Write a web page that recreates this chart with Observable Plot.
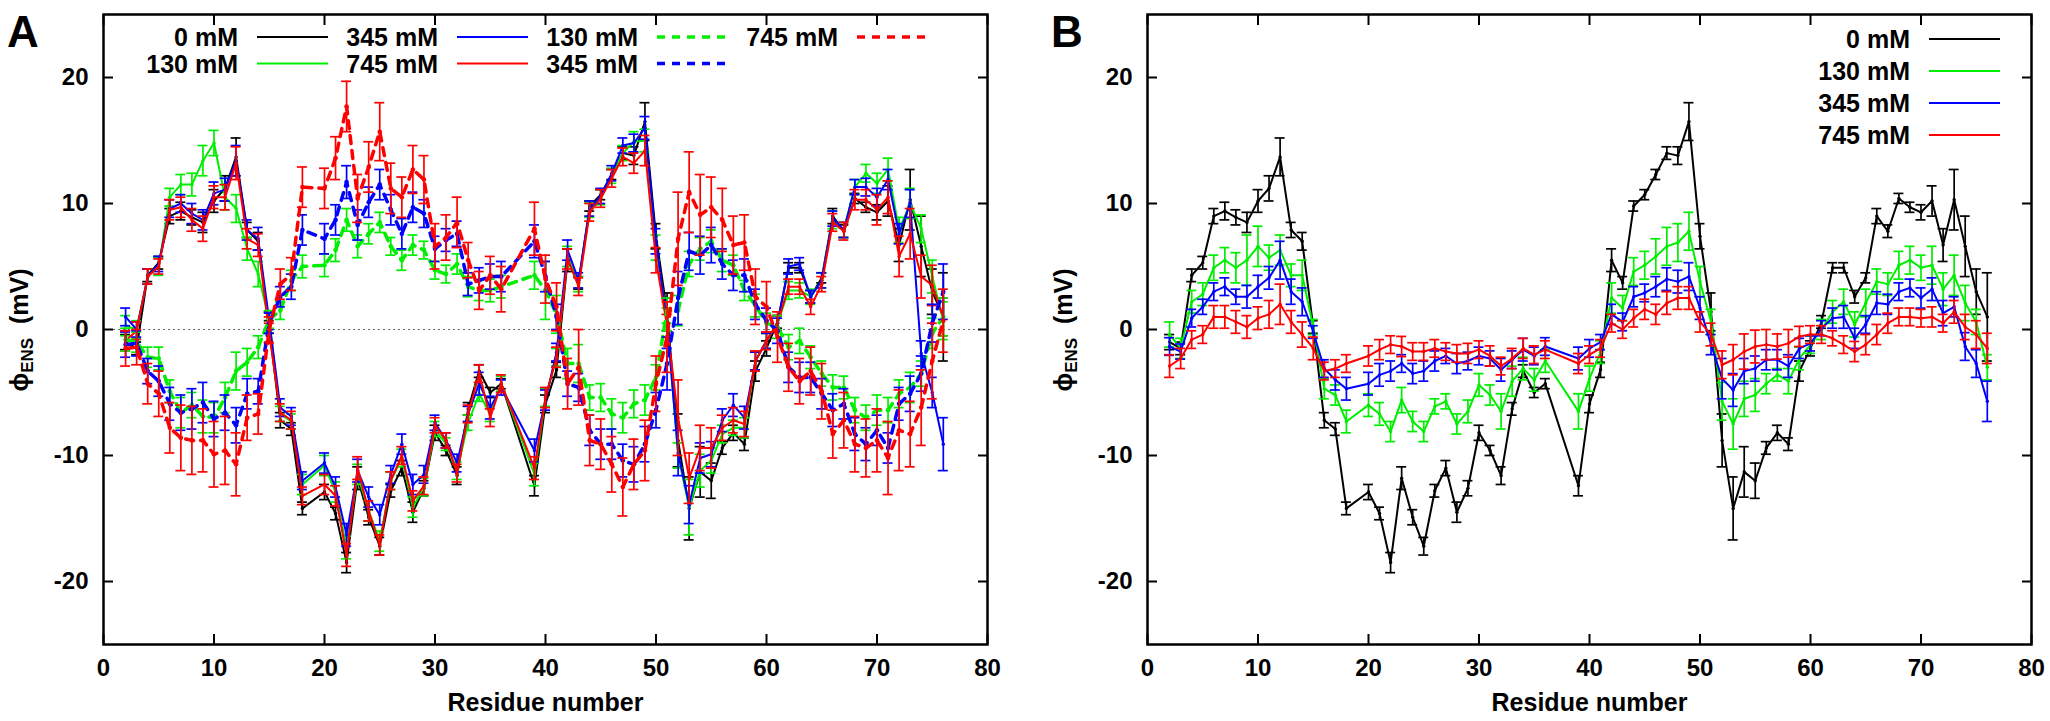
<!DOCTYPE html>
<html><head><meta charset="utf-8">
<script src="https://cdn.jsdelivr.net/npm/d3@7"></script>
<script src="https://cdn.jsdelivr.net/npm/@observablehq/plot@0.6"></script>
<style>
html,body{margin:0;padding:0;background:#fff;}
body{width:2050px;height:721px;overflow:hidden;position:relative;font-family:"Liberation Sans",Arial,sans-serif;}
#panelA,#panelB{position:absolute;top:0;}
#panelA{left:0px;}
#panelB{left:1044px;}
</style></head><body>
<div id="panelA"></div><div id="panelB"></div>
<script>
// ---------------- data ----------------
const residues = [2,3,4,5,6,7,8,9,10,11,12,13,14,15,16,17,18,
  20,21,22,23,24,25,26,27,28,29,30,31,32,33,34,35,36,
  39,40,41,42,43,44,45,46,47,48,49,50,51,52,53,54,55,56,57,58,59,60,61,62,63,64,65,66,67,68,69,70,71,72,73,74,75,76];

const xTicks = [0,10,20,30,40,50,60,70,80];
const yTicks = [-20,-10,0,10,20];
const concLabels = ["0 mM","130 mM","345 mM","745 mM"];
const concColors = ["#000000","#00ee00","#0000ff","#ff0000"];

// 0 mM (same in both panels)
const phi0 = [-1.0,-1.5,4.3,5.3,9.0,9.4,8.9,8.5,10.2,11.2,13.7,7.9,7.0,0.2,-7.2,-7.9,-14.2,
  -12.9,-14.6,-18.5,-11.8,-14.9,-17.2,-12.8,-11.0,-14.5,-12.6,-8.2,-9.6,-11.6,-6.3,-3.3,-5.0,-4.3,
  -12.4,-5.9,-3.2,5.5,3.7,9.8,10.7,12.3,14.0,13.8,16.5,7.4,1.4,-8.8,-14.2,-11.3,-12.0,-9.4,-8.2,-9.1,-3.3,-1.5,0.6,4.9,4.9,2.6,4.1,9.0,7.8,10.4,9.7,9.3,10.2,6.7,10.3,6.6,3.0,1.0];
const err0 = [0.6,0.5,0.5,0.5,0.6,0.7,0.6,0.8,0.9,1.0,1.5,0.6,0.7,0.5,0.6,0.5,0.5,
  0.6,0.5,0.8,0.9,0.6,0.7,0.5,0.6,0.8,0.6,0.6,0.4,0.7,0.5,0.5,0.4,0.4,
  0.8,0.7,0.6,0.9,0.5,0.4,0.4,0.4,0.5,0.7,1.5,1.0,1.5,2.1,2.5,2.0,1.4,0.5,0.6,0.5,0.8,0.6,0.5,0.4,0.4,0.5,0.4,0.6,0.5,0.4,0.4,0.6,1.2,1.3,2.4,2.4,1.8,3.5];

// Panel A, solid lines
const phiA130 = [0.3,0.0,4.2,5.0,10.5,11.5,11.5,13.4,14.8,10.5,9.6,6.4,4.4,0.7,-6.7,-7.3,-12.3,
  -10.8,-12.9,-17.3,-11.5,-14.4,-16.8,-12.0,-10.2,-14.1,-12.5,-7.9,-9.1,-11.2,-7.4,-5.1,-6.7,-4.3,
  -11.5,-5.4,-2.2,5.8,3.6,9.5,10.5,12.2,14.0,14.9,15.0,6.5,0.8,-10.0,-14.1,-11.2,-10.4,-8.3,-7.8,-7.8,-2.5,-0.9,0.5,3.1,3.1,2.6,3.9,8.7,7.9,11.3,12.4,11.6,12.7,7.9,10.0,8.0,4.2,0.7];
const errA130 = [0.8,0.7,0.6,0.7,0.7,0.8,0.9,1.2,1.0,1.0,1.1,0.9,1.0,0.7,0.6,0.6,0.8,
  0.8,0.8,0.9,0.8,0.8,0.8,0.7,0.7,0.8,0.7,0.6,0.5,0.7,0.6,0.6,0.6,0.6,
  0.9,0.7,0.7,0.8,0.6,0.6,0.6,0.6,0.6,0.8,0.9,1.0,0.9,1.0,2.2,1.3,1.0,0.7,0.6,0.8,0.7,0.6,0.6,0.7,0.6,0.6,0.6,0.7,0.6,0.6,0.7,0.8,0.9,1.0,1.2,1.1,1.3,1.5];
const phiA345 = [1.0,0.0,4.2,5.2,9.6,10.0,9.2,8.7,10.8,11.1,13.4,7.9,7.2,0.7,-6.2,-6.9,-12.0,
  -10.6,-12.5,-16.3,-11.2,-13.3,-14.7,-11.5,-9.1,-12.3,-11.5,-7.4,-8.8,-10.6,-6.7,-4.3,-6.2,-4.6,
  -9.6,-5.6,-1.8,6.3,3.9,9.6,10.6,12.4,14.6,14.8,16.0,7.0,0.5,-9.8,-13.9,-10.2,-9.9,-7.2,-6.0,-7.0,-2.5,-0.9,0.5,5.0,5.2,2.6,3.9,8.8,7.9,11.3,11.3,10.5,11.9,7.6,10.0,-1.9,-5.0,-9.1];
const errA345 = [0.7,0.6,0.6,0.6,0.7,0.7,0.8,0.8,0.9,0.9,1.2,0.8,0.9,0.7,0.7,0.7,0.7,
  0.8,0.8,0.9,0.9,0.8,0.8,0.7,0.8,0.8,0.7,0.6,0.6,0.7,0.6,0.9,0.9,0.6,
  0.9,0.8,0.7,0.8,0.6,0.6,0.6,0.6,0.6,0.7,0.9,1.0,2.0,1.8,1.5,1.2,1.0,0.9,0.9,0.9,0.7,0.6,0.6,0.6,0.5,0.5,0.6,0.6,0.6,0.6,0.7,0.7,0.8,0.8,1.1,1.0,1.2,2.1];
const phiA745 = [-0.9,-0.1,4.2,5.0,9.5,9.7,8.7,8.0,10.5,10.5,13.2,7.2,6.7,-0.3,-6.6,-7.2,-13.2,
  -12.3,-13.2,-17.9,-11.0,-14.4,-17.1,-12.0,-10.0,-13.6,-12.4,-7.6,-8.8,-11.4,-6.7,-3.5,-7.0,-4.3,
  -11.0,-5.4,-2.2,5.6,3.4,9.3,10.4,12.0,13.7,13.2,14.2,5.5,0.3,-7.0,-11.8,-9.4,-9.4,-7.8,-7.2,-7.5,-2.5,-0.9,0.5,3.4,3.4,1.8,3.6,8.5,7.8,10.3,10.3,9.5,10.5,5.8,7.6,4.2,3.5,1.0];
const errA745 = [0.8,0.7,0.6,0.6,0.8,0.8,0.9,1.0,0.9,1.0,1.3,0.8,0.9,0.8,0.7,0.7,0.7,
  0.8,0.8,0.9,0.9,0.8,0.8,0.7,0.7,0.8,0.7,0.6,0.6,0.7,0.7,0.7,0.7,0.7,
  0.9,0.8,0.8,0.8,0.7,0.7,0.7,0.7,0.7,0.8,1.2,1.0,0.9,3.0,2.0,1.8,1.6,1.0,1.0,1.0,0.8,0.7,0.6,0.6,0.6,0.6,0.6,0.7,0.7,0.8,0.8,1.2,1.3,1.6,2.0,1.7,1.6,1.5];

// Panel A, dashed lines
const phiA130d = [-0.8,-1.0,-2.2,-2.3,-4.9,-6.6,-6.0,-6.9,-7.0,-5.4,-3.3,-2.6,-1.4,0.8,1.5,3.9,5.0,
  5.1,6.3,8.7,6.6,7.6,8.5,6.6,5.5,6.7,6.3,4.7,4.4,5.2,3.4,3.1,3.1,3.4,
  4.3,3.1,1.2,-2.7,-2.7,-5.4,-5.4,-6.7,-7.0,-5.9,-5.6,-3.8,1.5,1.5,5.2,6.4,7.0,5.5,5.1,3.1,1.9,0.5,0.2,-1.4,-0.9,-2.2,-3.5,-4.6,-4.6,-6.4,-7.0,-6.4,-6.4,-5.1,-4.6,-3.5,-0.3,1.0];
const errA130d = [0.9,0.8,0.8,0.9,0.9,1.2,1.0,1.3,1.2,1.2,1.5,1.1,0.9,0.7,0.7,0.8,0.9,
  0.9,0.9,0.9,0.9,0.8,0.8,0.7,0.8,0.8,0.7,0.7,0.7,0.8,0.8,0.8,0.9,0.9,
  1.1,2.3,1.5,1.2,1.5,1.0,1.1,1.2,1.2,1.1,1.2,1.0,1.0,1.2,1.0,0.9,0.9,0.9,0.8,0.8,0.9,0.8,0.9,1.0,1.0,0.9,1.0,1.0,0.9,1.0,1.0,1.2,1.0,1.1,1.2,1.0,1.2,1.5];
const phiA345d = [-1.2,-1.1,-3.3,-4.1,-5.9,-6.6,-6.3,-5.8,-7.1,-6.6,-7.6,-5.1,-4.9,0.5,2.6,3.4,7.9,
  7.2,8.7,11.7,8.3,10.1,11.5,9.5,7.6,9.7,9.2,6.4,7.1,7.6,3.6,3.9,4.2,4.2,
  7.0,4.2,1.0,-4.3,-4.6,-8.0,-9.1,-9.1,-10.4,-10.7,-9.1,-6.4,-2.7,2.5,6.2,5.9,6.7,5.2,4.3,4.3,2.0,0.7,-0.1,-3.0,-3.8,-3.8,-5.1,-6.4,-5.9,-8.3,-9.1,-8.0,-9.4,-5.9,-5.1,-3.5,0.5,3.0];
const errA345d = [1.0,1.0,1.0,1.2,1.3,1.4,1.6,1.6,1.4,1.4,1.4,1.2,1.0,0.8,0.8,1.0,1.2,
  1.2,1.2,1.3,1.2,1.2,1.2,1.2,1.2,1.2,1.1,1.0,0.9,1.0,0.9,1.0,1.0,1.2,
  1.3,1.2,1.0,1.0,1.1,1.2,1.2,1.2,1.3,1.4,1.4,1.4,2.1,2.1,1.5,1.5,1.4,1.2,1.2,1.3,1.2,1.0,1.0,1.2,1.2,1.2,1.2,1.3,1.2,1.3,1.3,1.2,1.2,1.3,1.4,1.4,1.5,2.2];
const phiA745d = [-1.5,-1.4,-4.3,-5.1,-7.8,-8.6,-8.8,-8.8,-9.9,-9.6,-10.7,-7.0,-6.7,0.0,3.6,4.4,11.3,
  11.2,13.6,17.7,10.4,12.9,15.7,11.2,10.5,12.7,11.9,6.6,7.3,8.5,5.5,3.1,4.3,3.2,
  8.0,4.0,1.8,-4.3,-3.0,-8.8,-9.1,-10.7,-12.5,-10.7,-9.6,-4.3,-0.6,7.2,10.9,9.1,9.7,8.7,6.7,6.9,2.6,1.8,-0.6,-3.0,-4.1,-3.3,-4.9,-8.3,-7.2,-9.1,-9.4,-8.8,-10.2,-8.0,-8.3,-6.2,-2.5,0.7];
const errA745d = [1.4,1.4,1.6,1.8,2.0,2.6,2.7,2.5,2.6,2.7,2.5,1.8,1.6,1.0,1.2,1.3,1.6,
  1.6,1.7,2.0,1.9,2.0,2.3,2.0,1.6,1.9,1.9,1.8,1.8,2.0,1.4,1.5,1.5,1.8,
  2.1,1.9,1.9,2.0,3.0,2.0,2.0,2.2,2.3,2.0,2.4,2.2,2.8,3.7,3.2,3.2,2.4,2.5,2.3,2.2,2.2,2.0,2.0,1.9,1.8,1.9,2.2,1.9,2.2,2.2,2.3,2.5,2.9,3.2,2.6,3.0,3.0,2.5];

// Panel B
const phiB130 = [-0.4,-1.5,2.2,2.8,4.9,5.5,4.9,5.5,6.6,5.7,6.3,4.3,4.3,0.2,-4.7,-5.2,-7.3,
  -6.0,-6.7,-8.1,-5.6,-7.3,-8.1,-6.1,-5.7,-7.5,-6.5,-4.4,-5.2,-6.5,-4.1,-3.1,-4.0,-2.5,
  -6.5,-3.9,-1.8,2.5,1.7,4.6,5.1,5.8,6.6,6.9,7.8,3.8,0.6,-5.7,-7.5,-5.5,-5.2,-4.3,-3.6,-4.1,-2.3,-1.2,0.0,1.4,2.2,0.4,2.1,3.8,3.6,5.1,5.5,4.9,5.1,3.2,4.3,2.1,0.6,-3.0];
const errB130 = [1.0,0.8,0.9,0.9,1.0,1.0,1.2,2.0,1.6,1.0,1.2,0.9,1.2,0.6,0.8,0.8,0.9,
  0.9,0.9,0.8,1.0,0.8,0.8,0.6,0.6,0.8,0.9,0.9,0.8,1.4,1.2,0.9,0.9,0.9,
  1.4,1.0,0.9,1.2,1.0,1.1,1.1,1.4,1.5,1.5,1.5,1.2,1.0,1.5,2.0,1.4,1.3,0.8,0.5,1.0,0.9,0.7,0.8,0.9,1.0,1.0,1.1,1.0,0.9,1.1,1.1,1.0,1.5,1.3,1.6,1.4,1.0,1.0];
const phiB345 = [-1.35,-1.75,0.9,1.8,3.0,3.4,2.6,2.6,3.4,4.1,5.5,3.0,2.2,-0.2,-3.1,-4.0,-4.7,
  -4.3,-3.6,-3.3,-2.7,-3.5,-3.3,-2.5,-2.1,-2.7,-2.5,-2.1,-2.3,-3.2,-2.4,-1.6,-2.1,-1.35,
  -2.3,-1.5,-1.0,1.2,0.6,2.6,2.9,3.4,4.0,3.8,4.2,1.7,-1.2,-3.9,-4.8,-3.3,-3.1,-2.4,-2.4,-2.9,-1.5,-1.1,0.1,0.9,1.0,-0.7,0.4,2.1,2.0,3.0,3.3,2.5,3.2,1.3,1.8,-1.35,-2.7,-5.7];
const errB345 = [0.7,0.6,0.7,0.6,0.7,0.7,0.6,0.9,0.9,0.9,1.5,1.0,1.1,0.5,0.7,0.8,0.9,
  0.9,0.9,0.8,0.7,0.8,0.8,0.8,0.6,0.8,0.7,0.7,0.6,0.9,0.7,0.9,0.7,0.7,
  0.9,0.7,0.6,0.8,0.7,0.8,0.7,0.8,0.9,0.9,1.1,0.9,0.8,1.6,1.3,1.0,1.0,0.8,0.8,0.9,0.8,0.6,0.6,0.8,0.9,0.8,0.7,0.9,0.8,0.7,0.7,0.8,0.9,1.0,0.8,1.1,1.1,1.6];
const phiB745 = [-2.9,-2.3,-0.8,-0.4,1.0,1.0,0.6,0.2,0.9,1.2,2.0,0.6,-0.4,-1.5,-3.3,-3.1,-2.7,
  -2.1,-1.6,-1.2,-1.35,-1.75,-1.75,-1.5,-1.75,-1.9,-1.9,-1.6,-2.1,-2.9,-2.3,-1.5,-2.0,-1.6,
  -2.7,-2.0,-1.5,0.5,0.0,0.9,1.6,1.2,2.1,2.5,2.5,0.6,-0.4,-2.8,-2.4,-1.75,-1.35,-1.2,-1.35,-1.1,-0.55,-0.4,-0.4,-0.7,-1.2,-1.75,-1.2,-0.4,0.5,1.0,1.0,0.9,1.0,0.5,1.4,0.2,-0.4,-1.5];
const errB745 = [0.9,0.8,0.7,0.7,0.9,0.9,0.9,0.9,0.9,1.1,1.6,0.9,1.0,0.9,0.7,0.7,0.7,
  0.8,0.8,0.7,0.8,0.7,0.7,0.7,0.7,0.7,0.8,0.7,0.8,0.7,0.8,0.8,0.7,0.7,
  0.8,0.7,0.7,0.7,0.7,0.7,0.8,0.8,0.9,0.9,0.9,0.8,0.9,1.1,1.2,1.4,1.3,1.2,1.0,1.1,0.8,0.7,0.7,0.6,0.7,0.8,0.8,0.8,0.8,0.7,0.7,0.7,0.8,0.7,0.9,1.0,1.1,1.2];

// ---------------- drawing ----------------
const FONT = "'Liberation Sans', Arial, Helvetica, sans-serif";
function rows(vals, errs) { return residues.map((r, i) => ({r, v: vals[i], e: errs[i]})); }

function seriesMarks(vals, errs, color, dashed) {
  const data = rows(vals, errs);
  const sw = 1.7;
  return [
    Plot.ruleX(data, {x: "r", y1: d => d.v - d.e, y2: d => d.v + d.e, stroke: color, strokeWidth: sw}),
    Plot.ruleY(data, {y: d => d.v - d.e, x1: "r", x2: "r", insetLeft: -5, insetRight: -5, stroke: color, strokeWidth: sw}),
    Plot.ruleY(data, {y: d => d.v + d.e, x1: "r", x2: "r", insetLeft: -5, insetRight: -5, stroke: color, strokeWidth: sw}),
    Plot.line(data, {x: "r", y: "v", stroke: color, strokeWidth: dashed ? 3.5 : 2, strokeDasharray: dashed ? "8,7" : null, curve: "linear"}),
    Plot.dot(data, {x: "r", y: "v", r: dashed ? 2.3 : 1.7, fill: color, stroke: "none"})
  ];
}

function makePanel(width, marginRight, series, zeroLine) {
  return Plot.plot({
    width, height: 721,
    marginLeft: 103, marginRight, marginTop: 14, marginBottom: 77,
    x: {domain: [0, 80]},
    y: {domain: [-25, 25]},
    style: {fontFamily: FONT, fontSize: "24px", fontWeight: "bold", color: "black", background: "white", overflow: "visible"},
    marks: [
      zeroLine ? Plot.ruleY([0], {stroke: "#666", strokeWidth: 1, strokeDasharray: "2,3"}) : null,
      ...series.flatMap(s => seriesMarks(s.vals, s.errs, s.color, s.dashed)),
      Plot.frame({stroke: "black", strokeWidth: 2.5}),
      Plot.axisX(xTicks, {anchor: "bottom", tickSize: 0, tickPadding: 14, label: null, tickFormat: d => String(d)}),
      Plot.axisX(xTicks, {anchor: "bottom", tickSize: -10, strokeWidth: 2, label: null, tickFormat: () => ""}),
      Plot.axisX(xTicks, {anchor: "top", tickSize: -10, strokeWidth: 2, label: null, tickFormat: () => ""}),
      Plot.axisY(yTicks, {anchor: "left", tickSize: 0, tickPadding: 15, label: null, tickFormat: d => String(d)}),
      Plot.axisY(yTicks, {anchor: "left", tickSize: -10, strokeWidth: 2, label: null, tickFormat: () => ""}),
      Plot.axisY(yTicks, {anchor: "right", tickSize: -10, strokeWidth: 2, label: null, tickFormat: () => ""}),
      Plot.text(["Residue number"], {text: d => d, frameAnchor: "bottom", dy: 66, fontSize: 25, fontWeight: "bold"})
    ]
  });
}

function decorate(svgEl, letter, legendItems) {
  const svg = d3.select(svgEl);
  svg.append("text").attr("x", 7).attr("y", 47).attr("text-anchor", "start")
    .style("font-family", FONT).style("font-size", "44px").style("font-weight", "bold").text(letter);
  const yl = svg.append("text").attr("transform", "translate(28,330) rotate(-90)")
    .attr("text-anchor", "middle").style("font-family", FONT).style("font-size", "25px").style("font-weight", "bold");
  yl.append("tspan").text("\u03D5");
  yl.append("tspan").attr("dy", 5).style("font-size", "17px").text("ENS");
  yl.append("tspan").attr("dy", -5).text("\u00A0\u00A0(mV)");
  const g = svg.append("g");
  for (const it of legendItems) {
    g.append("text").attr("x", it.tx).attr("y", it.y).attr("text-anchor", "end").attr("dominant-baseline", "central")
      .style("font-family", FONT).style("font-size", "25px").style("font-weight", "bold").text(it.label);
    g.append("line").attr("x1", it.tx + 19).attr("x2", it.tx + 90).attr("y1", it.y).attr("y2", it.y)
      .attr("stroke", it.color).attr("stroke-width", it.dashed ? 3.5 : 2).attr("stroke-dasharray", it.dashed ? "8,7" : null);
  }
}

// Panel A
const seriesA = [
  {vals: phi0, errs: err0, color: concColors[0], dashed: false, label: concLabels[0]},
  {vals: phiA130, errs: errA130, color: concColors[1], dashed: false, label: concLabels[1]},
  {vals: phiA345, errs: errA345, color: concColors[2], dashed: false, label: concLabels[2]},
  {vals: phiA745, errs: errA745, color: concColors[3], dashed: false, label: concLabels[3]},
  {vals: phiA130d, errs: errA130d, color: concColors[1], dashed: true, label: concLabels[1]},
  {vals: phiA345d, errs: errA345d, color: concColors[2], dashed: true, label: concLabels[2]},
  {vals: phiA745d, errs: errA745d, color: concColors[3], dashed: true, label: concLabels[3]}
];
const plotA = makePanel(1040, 53, seriesA, true);
document.getElementById("panelA").appendChild(plotA);
decorate(plotA, "A", seriesA.map((s, i) => ({
  label: s.label, color: s.color, dashed: s.dashed,
  tx: 238 + 200 * Math.floor(i / 2), y: 37 + 26.5 * (i % 2)
})));

// Panel B
const seriesB = [
  {vals: phi0, errs: err0, color: concColors[0], dashed: false, label: concLabels[0]},
  {vals: phiB130, errs: errB130, color: concColors[1], dashed: false, label: concLabels[1]},
  {vals: phiB345, errs: errB345, color: concColors[2], dashed: false, label: concLabels[2]},
  {vals: phiB745, errs: errB745, color: concColors[3], dashed: false, label: concLabels[3]}
];
const plotB = makePanel(1006, 19, seriesB, false);
document.getElementById("panelB").appendChild(plotB);
decorate(plotB, "B", seriesB.map((s, i) => ({
  label: s.label, color: s.color, dashed: false, tx: 866, y: 39 + 32 * i
})));
</script>
</body></html>
